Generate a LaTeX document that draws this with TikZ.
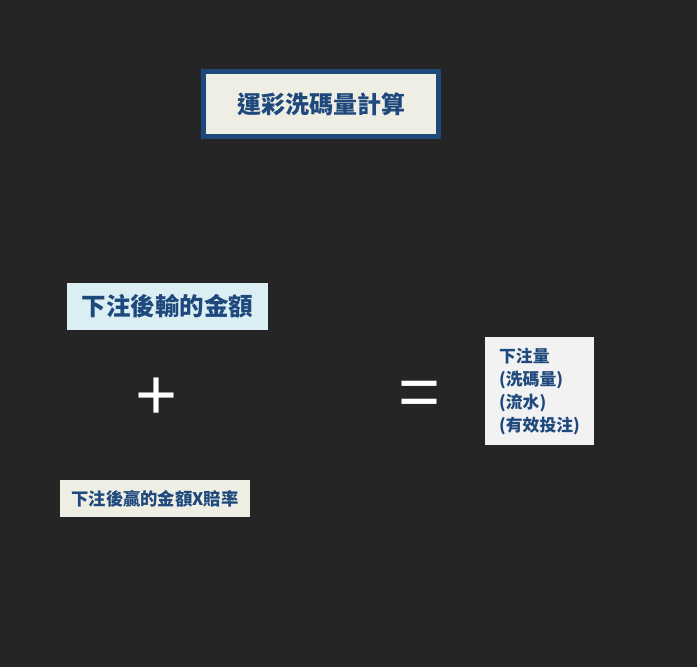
\documentclass[tikz,border=0pt]{standalone}
\usepackage{fontspec}
\setmainfont{Noto Sans CJK TC}
\newfontfamily\symfont{Liberation Sans}
\usepackage{tikz}
\definecolor{bgdark}{HTML}{252525}
\definecolor{navy}{HTML}{1F497D}
\definecolor{beige}{HTML}{EEEEE4}
\definecolor{paleblue}{HTML}{DAEEF3}
\definecolor{palegray}{HTML}{F2F2F2}
\tikzset{
  box/.style={rectangle, inner sep=0pt, text=navy, font={\bfseries}},
  sym/.style={text=white, inner sep=0pt, font={\symfont\fontsize{72}{72}\selectfont}}}

\begin{document}
\begin{tikzpicture}[x=1pt,y=-1pt]
\fill [bgdark] (0,0) rectangle (697,667);
\useasboundingbox (0,0) rectangle (697,667);
\node [box, fill=beige, draw=navy, line width=5pt, minimum width=235, minimum height=65,
  font={\bfseries\fontsize{24}{24}\selectfont}] (title) at (321,104) {運彩洗碼量計算};
\node [box, fill=paleblue, minimum width=201, minimum height=47,
  font={\bfseries\fontsize{24.5}{24.5}\selectfont}] (lose) at (167.5,306.5) {下注後輸的金額};
\node [sym] (plus) at (157,399) {+};
\node [box, fill=beige, minimum width=190, minimum height=37,
  font={\bfseries\fontsize{17.3}{17.3}\selectfont}] (win) at (155,498.5) {下注後贏的金額X賠率};
\node [sym] (eq) at (420,399) {=};
\node [box, fill=palegray, minimum width=109, minimum height=108, align=left,
  font={\bfseries\fontsize{16.8}{23}\selectfont}] (total) at (539.5,391)
  {下注量\\(洗碼量)\\(流水)\\(有效投注)};
\end{tikzpicture}
\end{document}
